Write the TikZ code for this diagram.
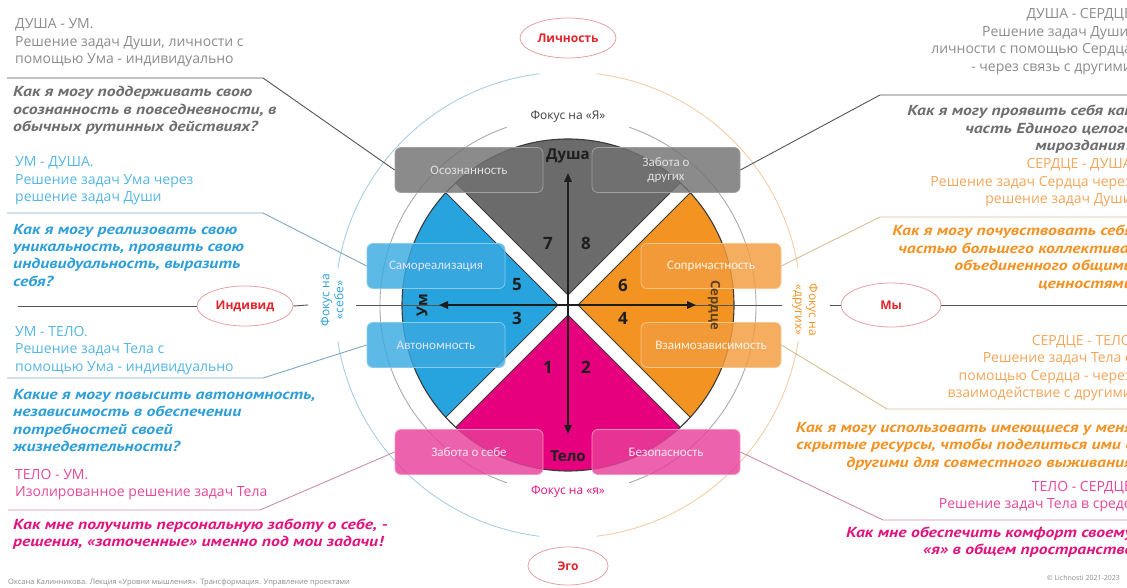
\documentclass[tikz,border=0pt]{standalone}
\usepackage{fontspec}
\setmainfont{Open Sans}
\newfontfamily\qfont{PT Sans}[FakeStretch=1.22]
\newfontfamily\cfont{Carlito}
\usetikzlibrary{shapes.geometric,arrows.meta,calc}

\definecolor{wgray}{HTML}{6B6B6B}
\definecolor{wblue}{HTML}{27A4DD}
\definecolor{worange}{HTML}{F39322}
\definecolor{wpink}{HTML}{E6007E}
\definecolor{wline}{HTML}{3A3A3A}
\definecolor{bgray}{HTML}{727272}
\definecolor{bgrayb}{HTML}{A0A0A0}
\definecolor{bblue}{HTML}{3AAAE0}
\definecolor{bblueb}{HTML}{8ACBEC}
\definecolor{borange}{HTML}{F49C3E}
\definecolor{borangeb}{HTML}{F8C58F}
\definecolor{bpink}{HTML}{E8409A}
\definecolor{bpinkb}{HTML}{F294C4}
\definecolor{tgray}{HTML}{8C8C8C}
\definecolor{qgray}{HTML}{6E6E6E}
\definecolor{tblue}{HTML}{55B6E6}
\definecolor{qblue}{HTML}{2E9FD9}
\definecolor{torange}{HTML}{F4A65A}
\definecolor{qorange}{HTML}{F39325}
\definecolor{tpink}{HTML}{E8489A}
\definecolor{qpink}{HTML}{E0157F}
\definecolor{labred}{HTML}{E3242B}
\definecolor{ellc}{HTML}{E9A0A4}
\definecolor{arrc}{HTML}{1E1E1E}
\definecolor{cblue}{HTML}{A8CFE6}
\definecolor{corange}{HTML}{F6CDA8}
\definecolor{cgray}{HTML}{AAAAAA}
\definecolor{lgr}{HTML}{555555}
\definecolor{lbl}{HTML}{7FA8C4}
\definecolor{lor}{HTML}{DDBE92}
\definecolor{lpk}{HTML}{CC8FAE}

\newcommand\Lft[1]{\vtop{\halign{##\hfil\cr#1\crcr}}}
\newcommand\Rgt[1]{\vtop{\halign{\hfil##\cr#1\crcr}}}

\tikzset{
  body/.style={inner sep=0pt, font=\fontsize{14}{17.5}\selectfont},
  ques/.style={inner sep=0pt, font=\qfont\bfseries\itshape\fontsize{14.5}{17.5}\selectfont},
  lbox/.style={rounded corners=6pt, minimum height=45pt, inner sep=0pt, line width=0.8pt,
    font=\cfont\fontsize{13}{14}\selectfont, align=center, fill opacity=0.82, text opacity=1},
  ell/.style={ellipse, draw=ellc, fill=white, line width=0.8pt, inner sep=0pt,
    font=\bfseries\fontsize{12}{14}\selectfont, text=labred},
  num/.style={inner sep=0pt, font=\bfseries\fontsize{17}{18}\selectfont, text=arrc},
  axarrow/.style={line width=1.6pt, draw=arrc, -{Triangle[length=9pt,width=7.5pt]}},
  axline/.style={line width=0.9pt, draw=lgr},
  foc/.style={inner sep=0pt, font=\fontsize{12}{14}\selectfont},
  wedge/.style={draw=wline, line width=0.9pt},
  lead/.style={line width=0.9pt},
}

\begin{document}
\begin{tikzpicture}[x=1pt,y=-1pt]
\useasboundingbox (0,0) rectangle (1127,588);
\fill[white] (0,0) rectangle (1127,588);
\coordinate (C) at (568,305);

% outer circles
\draw[cblue, line width=0.9pt] ($(C)+(97:233)$) arc[start angle=97, end angle=171, radius=233];
\draw[cblue, line width=0.9pt] ($(C)+(189:233)$) arc[start angle=189, end angle=263, radius=233];
\draw[corange, line width=0.9pt] ($(C)+(-83:233)$) arc[start angle=-83, end angle=-9, radius=233];
\draw[corange, line width=0.9pt] ($(C)+(9:233)$) arc[start angle=9, end angle=83, radius=233];
\draw[cgray, line width=0.9pt] ($(C)+(-71:188)$) arc[start angle=-71, end angle=71, radius=188];
\draw[cgray, line width=0.9pt] ($(C)+(109:188)$) arc[start angle=109, end angle=251, radius=188];

% wedges
\begin{scope}
\clip (C) circle[radius=166];
\filldraw[wedge, fill=wgray] ($(C)+(0,-10)$) -- +(-135:260) -- +(-45:260) -- cycle;
\filldraw[wedge, fill=wblue] ($(C)+(-10,0)$) -- +(135:260) -- +(225:260) -- cycle;
\filldraw[wedge, fill=worange] ($(C)+(10,0)$) -- +(-45:260) -- +(45:260) -- cycle;
\filldraw[wedge, fill=wpink] ($(C)+(0,10)$) -- +(45:260) -- +(135:260) -- cycle;
\end{scope}
\draw[wline, line width=1.1pt] (C) circle[radius=166];

% ellipses and axis line
\node[ell, minimum width=96pt, minimum height=40pt] (lich) at (568,38) {Личность};
\node[ell, minimum width=80pt, minimum height=38pt] (ego) at (568,566) {Эго};
\node[ell, minimum width=96pt, minimum height=40pt] (ind) at (245,306) {Индивид};
\node[ell, minimum width=100pt, minimum height=44pt] (my) at (891,305) {Мы};
\coordinate (axL) at (18,306);
\coordinate (axR) at (1127,305);
\coordinate (gL1) at (308,305);
\coordinate (gL2) at (356,305);
\coordinate (gR1) at (782,305);
\coordinate (gR2) at (830,305);
\draw[axline] (axL) -- (ind.west);
\draw[axline] (ind.east) -- (gL1);
\draw[axline] (gL2) -- (gR1);
\draw[axline] (gR2) -- (my.west);
\draw[axline] (my.east) -- (axR);

% boxes
\node[lbox, fill=bgray, draw=bgrayb, text=white!88!black, minimum width=148pt] (bOs) at (469,170) {Осознанность};
\node[lbox, fill=bgray, draw=bgrayb, text=white!88!black, minimum width=148pt] (bZd) at (666,170) {Забота о\\других};
\node[lbox, fill=bblue, draw=bblueb, text=white!90!blue, minimum width=138pt] (bSa) at (436,266) {Самореализация};
\node[lbox, fill=bblue, draw=bblueb, text=white!90!blue, minimum width=138pt] (bAv) at (436,345) {Автономность};
\node[lbox, fill=borange, draw=borangeb, text=white!92!orange, minimum width=140pt] (bSo) at (711,266) {Сопричастность};
\node[lbox, fill=borange, draw=borangeb, text=white!92!orange, minimum width=140pt] (bVz) at (711,345) {Взаимозависимость};
\node[lbox, fill=bpink, draw=bpinkb, text=white!90!magenta, minimum width=148pt] (bZs) at (469,452) {Забота о себе};
\node[lbox, fill=bpink, draw=bpinkb, text=white!90!magenta, minimum width=148pt] (bBe) at (666,452) {Безопасность};

% arrows
\coordinate (aU) at (568,173);
\coordinate (aD) at (568,434);
\coordinate (aL) at (439,305);
\coordinate (aR) at (696,305);
\draw[axarrow] (C) -- (aU);
\draw[axarrow] (C) -- (aD);
\draw[axarrow] (C) -- (aL);
\draw[axarrow] (C) -- (aR);
\node[inner sep=0pt, font=\bfseries\fontsize{15}{16}\selectfont, text=arrc] (lDu) at (568,156) {Душа};
\node[inner sep=0pt, font=\bfseries\fontsize{15}{16}\selectfont, text=arrc] (lTe) at (568,456) {Тело};
\node[inner sep=0pt, font=\bfseries\fontsize{15}{16}\selectfont, text=arrc, rotate=90] (lUm) at (422,305) {Ум};
\node[inner sep=0pt, font=\bfseries\fontsize{13}{16}\selectfont, text=arrc!70!worange, rotate=-90] (lSe) at (714,305) {Сердце};

% numbers
\node[num] (n7) at (548,243) {7};
\node[num] (n8) at (586,243) {8};
\node[num] (n5) at (517,285) {5};
\node[num] (n3) at (517,318) {3};
\node[num] (n6) at (623,285) {6};
\node[num] (n4) at (623,318) {4};
\node[num] (n1) at (548,367) {1};
\node[num] (n2) at (586,367) {2};

% focus labels
\node[foc, text=black!75] (fT) at (568,117) {Фокус на «Я»};
\node[foc, text=qpink] (fB) at (568,492) {Фокус на «я»};
\node[foc, text=qblue, rotate=90, align=center] (fL) at (332,300) {Фокус на\\«себе»};
\node[foc, text=qorange, rotate=-90, align=center] (fR) at (805,310) {Фокус на\\«других»};

% left texts
\node[body, anchor=base west, text=tgray] (t1) at (15,29) {\Lft{ДУША - УМ.\cr Решение задач Души, личности с\cr помощью Ума - индивидуально}};
\node[ques, anchor=base west, text=qgray] (q1) at (13,97) {\Lft{Как я могу поддерживать свою\cr осознанность в повседневности, в\cr обычных рутинных действиях?}};
\node[body, anchor=base west, text=tblue] (t2) at (15,167) {\Lft{УМ - ДУША.\cr Решение задач Ума через\cr решение задач Души}};
\node[ques, anchor=base west, text=qblue] (q2) at (13,234) {\Lft{Как я могу реализовать свою\cr уникальность, проявить свою\cr индивидуальность, выразить\cr себя?}};
\node[body, anchor=base west, text=tblue] (t3) at (15,336) {\Lft{УМ - ТЕЛО.\cr Решение задач Тела с\cr помощью Ума - индивидуально}};
\node[ques, anchor=base west, text=qblue] (q3) at (13,399) {\Lft{Какие я могу повысить автономность,\cr независимость в обеспечении\cr потребностей своей\cr жизнедеятельности?}};
\node[body, anchor=base west, text=tpink] (t4) at (15,479) {\Lft{ТЕЛО - УМ.\cr Изолированное решение задач Тела}};
\node[ques, anchor=base west, text=qpink] (q4) at (13,529) {\Lft{Как мне получить персональную заботу о себе, -\cr решения, «заточенные» именно под мои задачи!}};

% right texts
\node[body, anchor=base east, text=tgray] (t5) at (1132,19) {\Rgt{ДУША - СЕРДЦЕ\cr Решение задач Души,\cr личности с помощью Сердца\cr - через связь с другими}};
\node[ques, anchor=base east, text=qgray] (q5) at (1133,116) {\Rgt{Как я могу проявить себя как\cr часть Единого целого\cr мироздания?}};
\node[body, anchor=base east, text=torange] (t6) at (1132,169) {\Rgt{СЕРДЦЕ - ДУША\cr Решение задач Сердца через\cr решение задач Души}};
\node[ques, anchor=base east, text=qorange] (q6) at (1133,236) {\Rgt{Как я могу почувствовать себя\cr частью большего коллектива,\cr объединенного общими\cr ценностями}};
\node[body, anchor=base east, text=torange] (t7) at (1132,345) {\Rgt{СЕРДЦЕ - ТЕЛО\cr Решение задач Тела с\cr помощью Сердца - через\cr взаимодействие с другими}};
\node[ques, anchor=base east, text=qorange] (q7) at (1133,432) {\Rgt{Как я могу использовать имеющиеся у меня\cr скрытые ресурсы, чтобы поделиться ими с\cr другими для совместного выживания}};
\node[body, anchor=base east, text=tpink] (t8) at (1132,491) {\Rgt{ТЕЛО - СЕРДЦЕ\cr Решение задач Тела в среде}};
\node[ques, anchor=base east, text=qpink] (q8) at (1133,537) {\Rgt{Как мне обеспечить комфорт своему\cr «я» в общем пространстве}};

% leader lines
\coordinate (s1) at (7,78);   \coordinate (k1) at (263,78);
\coordinate (s2) at (7,213);  \coordinate (k2) at (263,213);
\coordinate (s3) at (7,378);  \coordinate (k3) at (263,378);
\coordinate (s4) at (8,510);  \coordinate (k4) at (260,510);
\coordinate (s5) at (1127,95);  \coordinate (k5) at (880,95);
\coordinate (s6) at (1127,217); \coordinate (k6) at (880,217);
\coordinate (s7) at (1127,409); \coordinate (k7) at (887,409);
\coordinate (s8) at (1127,520); \coordinate (k8) at (883,520);
\draw[lead, lgr] (s1) -- (k1) -- (bOs.west);
\draw[lead, lbl] (s2) -- (k2) -- (bSa.west);
\draw[lead, lbl] (s3) -- (k3) -- (bAv.west);
\draw[lead, lpk] (s4) -- (k4) -- (bZs.west);
\draw[lead, lgr] (s5) -- (k5) -- (bZd.east);
\draw[lead, lor] (s6) -- (k6) -- (bSo.east);
\draw[lead, lor] (s7) -- (k7) -- (bVz.east);
\draw[lead, lpk] (s8) -- (k8) -- (bBe.east);

% footers
\node[inner sep=0pt, anchor=base west, text=black!45, font=\fontsize{7.5}{9}\selectfont] (fl) at (8,584) {Оксана Калинникова. Лекция «Уровни мышления». Трансформация. Управление проектами};
\node[inner sep=0pt, anchor=base east, text=black!45, font=\fontsize{7}{9}\selectfont] (fr) at (1120,580) {© Lichnosti 2021-2023};
\end{tikzpicture}
\end{document}
